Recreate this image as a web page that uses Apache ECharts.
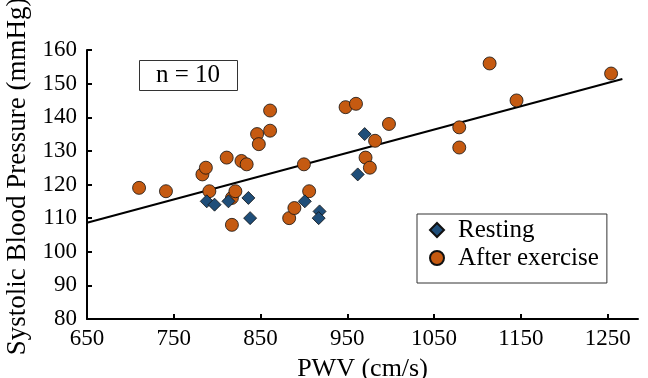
<!DOCTYPE html>
<html lang="en">
<head>
    <meta charset="UTF-8">
    <script src="https://cdn.jsdelivr.net/npm/echarts@6/dist/echarts.min.js"></script>
    <title>PWV vs Systolic Blood Pressure</title>
    <style>
        html, body { margin: 0; padding: 0; background: #fff; }
        #chart { width: 648px; height: 378px; }
    </style>
</head>
<body>
<div id="chart"></div>
<script>
    // resting measurements [PWV, SBP]
    let resting = [
        [788, 115], [797, 114], [813, 115], [836, 116], [838, 110],
        [901, 115], [918, 112], [917, 110], [962, 123], [970, 135]
    ];
    // after exercise measurements [PWV, SBP]
    let afterExercise = [
        [710, 119], [741, 118], [783, 123], [787, 125], [791, 118],
        [811, 128], [817, 116], [817, 108], [821, 118], [828, 127],
        [834, 126], [846, 135], [848, 132], [861, 142], [861, 136],
        [883, 110], [889, 113], [900, 126], [906, 118], [948, 143],
        [960, 144], [971, 128], [976, 125], [982, 133], [998, 138],
        [1079, 137], [1079, 131], [1114, 156], [1145, 145], [1254, 153]
    ];
    // regression line end points
    let trendLine = [[650, 108.6], [1267, 151.4]];
    let xTicks = [650, 750, 850, 950, 1050, 1150, 1250];

    let serif = "'Liberation Serif', 'Times New Roman', serif";

    let myChart = echarts.init(document.getElementById('chart'));
    myChart.setOption({
        animation: false,
        textStyle: { fontFamily: serif, color: '#000' },
        title: {
            text: 'n = 10',
            left: 139,
            top: 60,
            padding: [3, 18, 3, 17],
            borderWidth: 1,
            borderColor: '#333',
            textStyle: { fontFamily: serif, fontSize: 25, fontWeight: 'normal', color: '#000' }
        },
        legend: {
            orient: 'vertical',
            left: 417,
            top: 214,
            padding: [2, 8, 11, 12],
            itemGap: 0,
            itemWidth: 14,
            itemHeight: 14,
            borderWidth: 1,
            borderColor: '#333',
            data: ['Resting', 'After exercise'],
            textStyle: { fontFamily: serif, fontSize: 25, color: '#000', lineHeight: 28, padding: [0, 0, 0, 9] }
        },
        grid: { left: 87, right: 10, top: 50, bottom: 59, outerBoundsMode: 'none', containLabel: false },
        xAxis: {
            type: 'value',
            min: 650,
            max: 1285,
            name: 'PWV (cm/s)',
            nameLocation: 'middle',
            nameGap: 37,
            nameTextStyle: { fontFamily: serif, fontSize: 26, color: '#000' },
            axisLine: { lineStyle: { color: '#000', width: 2 } },
            axisTick: { inside: true, length: 5, customValues: xTicks, lineStyle: { color: '#000', width: 2 } },
            axisLabel: {
                customValues: xTicks,
                margin: 8,
                fontFamily: serif,
                fontSize: 23,
                color: '#000',
                formatter: function (v) { return String(v); }
            },
            splitLine: { show: false }
        },
        yAxis: {
            type: 'value',
            min: 80,
            max: 160,
            interval: 10,
            name: 'Systolic Blood Pressure (mmHg)',
            nameLocation: 'middle',
            nameGap: 46,
            nameTextStyle: { fontFamily: serif, fontSize: 27, color: '#000', padding: [0, 0, 0, 16] },
            axisLine: { show: true, lineStyle: { color: '#000', width: 2 } },
            axisTick: { show: true, inside: true, length: 5, lineStyle: { color: '#000', width: 2 } },
            axisLabel: { margin: 10, fontFamily: serif, fontSize: 23, color: '#000' },
            splitLine: { show: false }
        },
        series: [
            {
                name: 'Trend',
                type: 'line',
                data: trendLine,
                symbol: 'none',
                silent: true,
                z: 1,
                lineStyle: { color: '#000', width: 2 }
            },
            {
                name: 'Resting',
                type: 'scatter',
                data: resting,
                symbol: 'diamond',
                symbolSize: 13,
                z: 3,
                itemStyle: { color: '#1F4E79', borderColor: '#111', borderWidth: 0.8, opacity: 1 }
            },
            {
                name: 'After exercise',
                type: 'scatter',
                data: afterExercise,
                symbol: 'circle',
                symbolSize: 13,
                z: 2,
                itemStyle: { color: '#C55A11', borderColor: '#111', borderWidth: 0.8, opacity: 1 }
            }
        ]
    });
</script>
</body>
</html>
